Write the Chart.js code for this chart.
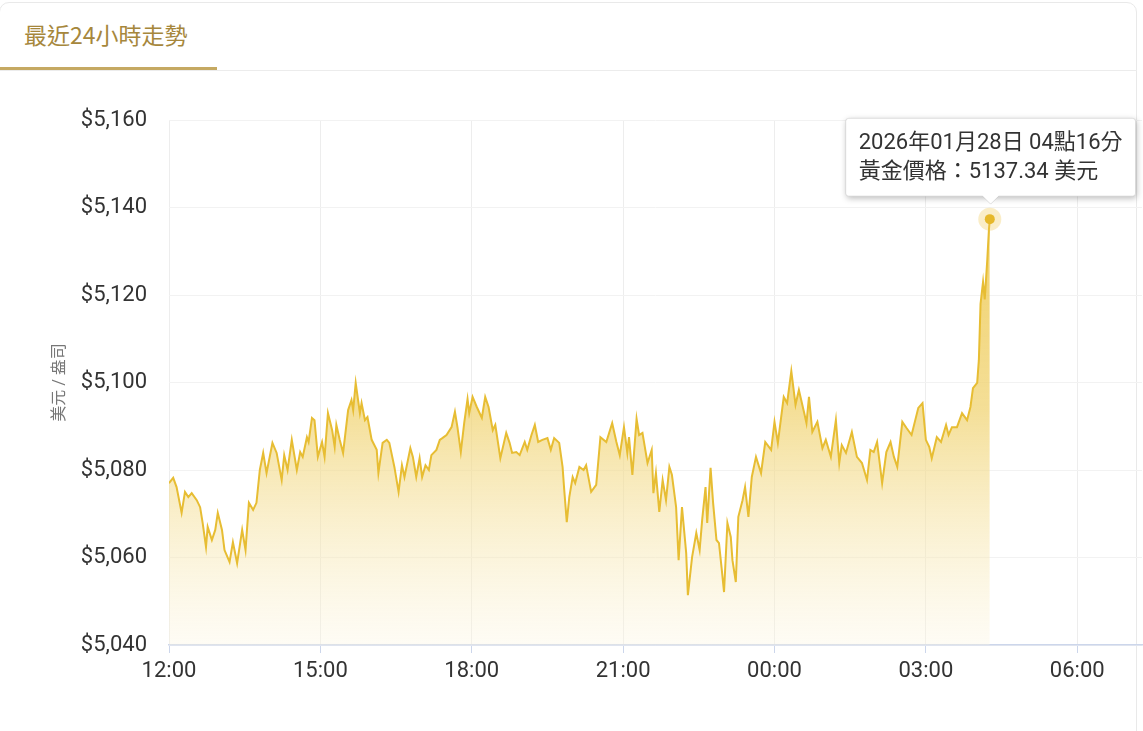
<!DOCTYPE html>
<html><head><meta charset="utf-8">
<script src="https://cdn.jsdelivr.net/npm/chart.js@4.4.1/dist/chart.umd.min.js"></script>
<style>
html,body{margin:0;padding:0;background:#fff;overflow:hidden;width:1143px;height:731px;}
.card{position:absolute;left:-1px;top:2px;width:1138px;height:800px;border:1px solid #e9e9e9;border-radius:10px;box-sizing:border-box;}
.tabline{position:absolute;left:0;top:70px;width:1137px;height:1px;background:#ececec;}
.tabtext{position:absolute;left:24px;top:19px;font-size:23px;line-height:31px;font-family:"Noto Sans CJK TC","Noto Sans",sans-serif;color:#a6873c;}
.underline{position:absolute;left:0;top:67px;width:217px;height:3px;background:#c5a962;}
#wrap{position:absolute;left:0;top:0;width:1143px;height:731px;}
</style></head>
<body>
<div class="card"></div>
<div class="tabline"></div>
<div class="tabtext">最近24小時走勢</div>
<div class="underline"></div>
<div id="wrap"><canvas id="c"></canvas></div>
<script>
// minutes after 2026-01-27 12:00
const minutes = [
0,5,9,15,19,23,27,33,37,40,
44,46,51,55,58,63,66,72,76,81,
87,91,95,100,104,108,112,116,123,128,
134,137,141,146,152,156,159,164,166,170,
173,177,182,185,189,194,197,199,203,207,
213,217,219,222,227,229,233,236,241,247,
249,254,259,262,268,273,277,280,287,290,
294,298,301,305,309,312,318,322,325,330,
336,340,343,347,351,355,357,361,366,372,
376,380,385,388,394,401,405,408,413,417,
423,426,431,435,439,444,450,454,458,464,
468,470,473,476,480,483,488,493,496,502,
508,513,520,527,532,536,541,545,547,551,
556,559,563,569,574,576,579,583,587,591,
595,598,603,606,610,615,617,622,627,631,
634,638,640,644,647,651,654,657,660,664,
668,670,674,677,682,685,689,693,698,704,
709,716,720,724,731,735,740,745,749,755,
758,761,765,771,777,781,787,793,797,800,
805,812,818,824,830,834,838,842,848,853,
858,862,866,872,877,883,891,896,900,904,
907,913,918,924,927,931,937,943,949,953,
956,961,963,965,968,970,973,975,976];
const prices = [
5077.0,5078.2,5076.1,5070.2,5075.0,5073.8,5074.7,5073.1,5071.5,5067.9,
5062.4,5067.0,5064.0,5066.3,5070.2,5066.3,5061.7,5059.0,5063.5,5058.7,
5066.3,5061.7,5072.5,5070.9,5072.5,5080.0,5083.9,5079.3,5086.2,5083.9,
5077.7,5083.4,5080.0,5086.9,5080.0,5084.1,5083.0,5087.5,5086.4,5091.9,
5091.4,5083.0,5086.4,5083.0,5093.0,5089.1,5085.3,5090.3,5086.9,5083.9,
5093.7,5096.0,5093.7,5099.9,5093.0,5095.3,5091.4,5092.1,5086.9,5084.6,
5079.3,5086.2,5086.9,5086.2,5080.7,5075.0,5081.1,5078.4,5085.0,5083.0,
5078.4,5082.7,5078.4,5081.1,5080.0,5083.4,5084.6,5086.9,5087.3,5088.0,
5089.8,5093.3,5089.8,5084.1,5090.7,5096.2,5093.0,5096.7,5094.4,5091.9,
5096.7,5094.4,5089.1,5090.3,5082.7,5088.5,5086.2,5083.9,5084.1,5083.4,
5086.4,5084.6,5088.0,5090.3,5086.4,5086.9,5087.3,5084.6,5087.3,5086.2,
5080.7,5075.4,5068.1,5073.8,5078.4,5077.0,5080.7,5080.0,5081.1,5075.0,
5076.6,5087.5,5086.4,5090.7,5086.4,5083.4,5089.8,5083.9,5087.5,5078.9,
5091.7,5088.0,5088.5,5081.6,5084.6,5074.7,5079.3,5070.4,5077.7,5073.1,
5080.7,5078.9,5071.5,5059.4,5071.5,5061.0,5051.4,5060.1,5065.6,5061.7,
5068.6,5076.1,5067.9,5080.5,5072.5,5064.0,5063.3,5057.8,5052.1,5067.9,
5064.7,5059.4,5054.4,5069.3,5073.1,5076.1,5069.3,5078.4,5083.0,5079.3,
5086.4,5084.6,5091.0,5086.2,5096.7,5095.3,5102.6,5094.9,5098.3,5093.3,
5090.7,5096.7,5088.7,5091.0,5085.0,5086.9,5083.0,5091.4,5081.6,5085.7,
5083.9,5088.7,5083.0,5081.6,5077.7,5084.6,5084.1,5086.4,5077.0,5084.1,
5086.4,5083.0,5080.7,5091.0,5089.6,5088.0,5094.2,5095.3,5086.9,5085.3,
5082.7,5087.5,5086.4,5090.3,5088.0,5089.8,5089.8,5093.0,5091.4,5094.4,
5098.7,5099.9,5105.1,5118.0,5123.0,5119.0,5128.0,5135.0,5137.34];
const tickMinutes = [0,180,360,540,720,900,1080];
const tickLabels = ['12:00','15:00','18:00','21:00','00:00','03:00','06:00'];
const yMin = 5040, yMax = 5160, yStep = 20;
const xMax = 1157;
const startDay = 27, startHour = 12;
const yTitle = '美元 / 盎司';

const last = prices.length - 1;
const pad2 = n => String(n).padStart(2,'0');
function fmtTime(m){
  const total = startHour*60 + m;
  const day = startDay + Math.floor(total/1440);
  const r = total % 1440;
  return '2026年01月' + pad2(day) + '日 ' + pad2(Math.floor(r/60)) + '點' + pad2(r%60) + '分';
}
const FONT = 'Roboto, "Noto Sans CJK TC", sans-serif';

const haloPlugin = {
  id:'halo',
  afterDatasetsDraw(chart){
    const el = chart.getDatasetMeta(0).data[last];
    if(!el) return;
    const ctx = chart.ctx;
    ctx.save();
    ctx.beginPath(); ctx.arc(el.x, el.y, 11.5, 0, Math.PI*2);
    ctx.fillStyle = 'rgba(238,200,80,0.32)'; ctx.fill();
    ctx.beginPath(); ctx.arc(el.x, el.y, 5, 0, Math.PI*2);
    ctx.fillStyle = '#e6b82a'; ctx.fill();
    ctx.restore();
  }
};
const shadowPlugin = {
  id:'tipShadow',
  beforeTooltipDraw(chart, args){
    const t = args.tooltip;
    if(!t || !t.opacity) return;
    const ctx = chart.ctx;
    ctx.save();
    ctx.shadowColor = 'rgba(0,0,0,0.28)';
    ctx.shadowBlur = 6; ctx.shadowOffsetX = 1; ctx.shadowOffsetY = 2;
    ctx.fillStyle = '#fff';
    ctx.beginPath();
    if (ctx.roundRect) ctx.roundRect(t.x, t.y, t.width, t.height, 3); else ctx.rect(t.x, t.y, t.width, t.height);
    ctx.fill();
    ctx.restore();
  }
};

const chart = new Chart(document.getElementById('c'), {
  type:'line',
  data:{ datasets:[{
    data: minutes.map((m,i)=>({x:m, y:prices[i]})),
    borderColor:'#e7bd33', borderWidth:2, pointRadius:0, pointHoverRadius:0, pointHitRadius:0,
    tension:0, fill:'start',
    backgroundColor: (context)=>{
      const {ctx, chartArea} = context.chart;
      if(!chartArea) return 'rgba(240,210,120,0.5)';
      const g = ctx.createLinearGradient(0, chartArea.top, 0, chartArea.bottom);
      g.addColorStop(0, 'rgba(236,194,60,0.9)');
      g.addColorStop(0.55, 'rgba(240,210,110,0.72)');
      g.addColorStop(1, 'rgba(252,246,225,0.35)');
      return g;
    }
  }]},
  options:{
    responsive:true, maintainAspectRatio:false, animation:false, events:[],
    layout:{padding:{top:120, bottom:36, left:0, right:0}},
    interaction:{mode:'nearest', axis:'x', intersect:false},
    plugins:{
      legend:{display:false},
      tooltip:{
        enabled:true, xAlign:'center', yAlign:'bottom',
        backgroundColor:'#ffffff', borderColor:'rgba(0,0,0,0.12)', borderWidth:1,
        titleColor:'#333', bodyColor:'#333',
        titleFont:{family:FONT, size:22, weight:'normal'},
        bodyFont:{family:FONT, size:22, weight:'normal'},
        padding:{top:12,bottom:10,left:13,right:13}, titleMarginBottom:3,
        caretSize:8, caretPadding:15, cornerRadius:3, displayColors:false,
        callbacks:{
          title: items => fmtTime(items[0].parsed.x),
          label: item => '黃金價格：' + item.parsed.y.toFixed(2) + ' 美元'
        }
      }
    },
    scales:{
      x:{
        type:'linear', min:0, max:xMax,
        afterBuildTicks: s => { s.ticks = tickMinutes.map(v=>({value:v})); },
        afterFit: s => { s.height = 50; },
        ticks:{ autoSkip:false, maxRotation:0, padding:5, color:'#333',
          font:{family:FONT, size:22},
          callback:(v,i)=>tickLabels[i] },
        grid:{ color:'#ededed', tickColor:'#ccd6eb', tickLength:8, drawTicks:true },
        border:{ display:true, color:'#ccd6eb', width:1.5 }
      },
      y:{
        min:yMin, max:yMax,
        afterFit: s => { s.width = 169; },
        ticks:{ stepSize:yStep, padding:22, color:'#333', font:{family:FONT, size:22},
          callback: v => '$' + v.toLocaleString('en-US') },
        grid:{ color:'#f2f2f2', drawTicks:false },
        border:{ display:false },
        title:{ display:true, text:yTitle, color:'#777', font:{family:FONT, size:16}, padding:{top:50,bottom:0} }
      }
    }
  },
  plugins:[haloPlugin, shadowPlugin]
});
chart.setActiveElements([{datasetIndex:0, index:last}]);
chart.tooltip.setActiveElements([{datasetIndex:0, index:last}], {x:0, y:0});
chart.update();
</script>
</body></html>
